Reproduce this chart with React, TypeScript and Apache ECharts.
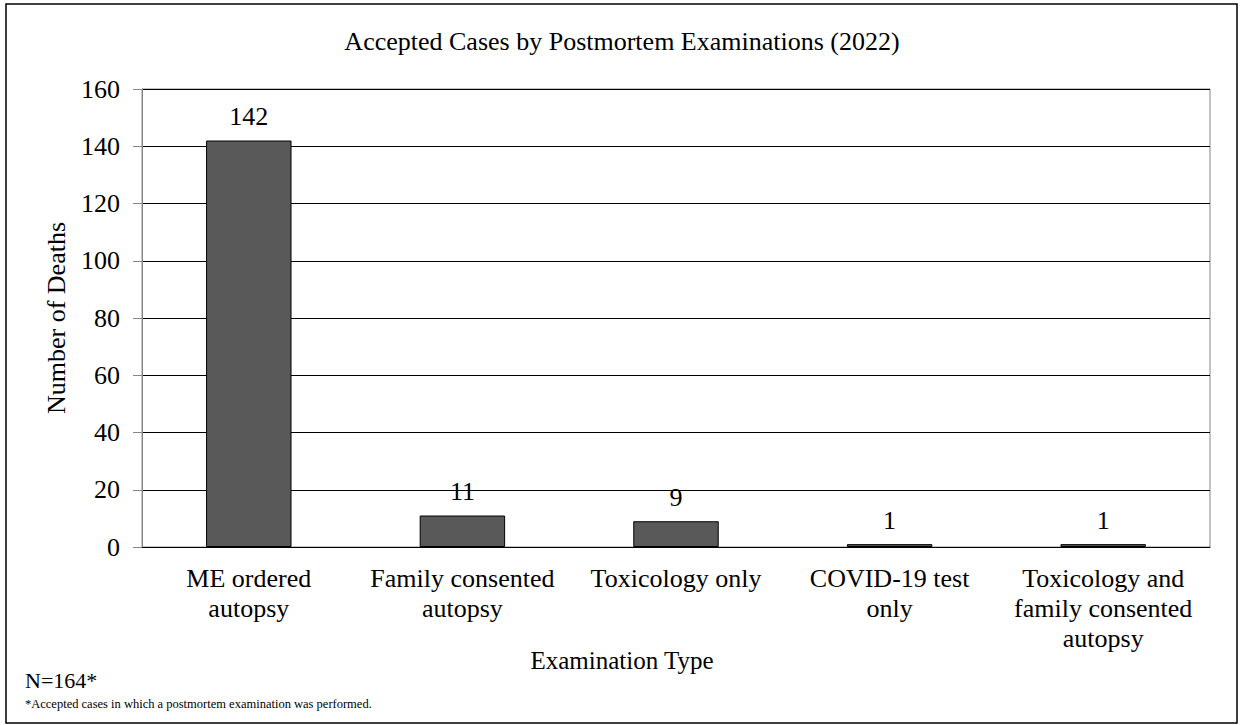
import React, { useEffect, useRef } from "react";
import * as echarts from "echarts";

const categories = [
  "ME ordered\nautopsy",
  "Family consented\nautopsy",
  "Toxicology only",
  "COVID-19 test\nonly",
  "Toxicology and\nfamily consented\nautopsy",
];
const deaths = [142, 11, 9, 1, 1];
const yTicks = { min: 0, max: 160, interval: 20 };
const titleText = "Accepted Cases by Postmortem Examinations (2022)";
const xAxisTitle = "Examination Type";
const yAxisTitle = "Number of Deaths";
const nText = "N=164*";
const footnote = "*Accepted cases in which a postmortem examination was performed.";

const FONT = "Liberation Serif";

function txt(text: string, x: number, y: number, size: number, align: string, rotation = 0) {
  return {
    type: "text",
    x,
    y,
    rotation,
    style: {
      text,
      fontFamily: FONT,
      fontSize: size,
      fill: "#000",
      align,
      verticalAlign: "middle",
    },
  };
}

export default function App() {
  const ref = useRef<HTMLDivElement>(null);
  useEffect(() => {
    if (!ref.current) return;
    const chart = echarts.init(ref.current, null, { renderer: "svg" });
    chart.setOption({
      animation: false,
      backgroundColor: "#fff",
      textStyle: { fontFamily: FONT, color: "#000" },
      grid: {
        left: 142,
        top: 89,
        right: 34,
        bottom: 178,
        show: true,
        borderColor: "#868686",
        borderWidth: 1,
        backgroundColor: "transparent",
      },
      xAxis: {
        type: "category",
        data: categories,
        axisLine: { show: true, lineStyle: { color: "#000", width: 1 } },
        axisTick: { show: false },
        axisLabel: {
          fontFamily: FONT,
          fontSize: 26,
          lineHeight: 30,
          color: "#000",
          margin: 16,
          interval: 0,
        },
      },
      yAxis: {
        type: "value",
        min: yTicks.min,
        max: yTicks.max,
        interval: yTicks.interval,
        axisLine: { show: true, lineStyle: { color: "#868686", width: 1 } },
        axisTick: { show: true, length: 9, lineStyle: { color: "#868686" } },
        axisLabel: { fontFamily: FONT, fontSize: 26, color: "#000", margin: 22 },
        splitLine: { show: true, lineStyle: { color: "#000", width: 1 } },
      },
      series: [
        {
          type: "bar",
          data: deaths,
          barWidth: "40%",
          itemStyle: { color: "#595959", borderColor: "#000", borderWidth: 1 },
          label: {
            show: true,
            position: "top",
            distance: 11,
            fontFamily: FONT,
            fontSize: 26,
            lineHeight: 26,
            color: "#000",
          },
        },
      ],
      graphic: [
        {
          type: "rect",
          shape: { x: 6, y: 4, width: 1231, height: 719 },
          style: { fill: "none", stroke: "#000", lineWidth: 1.5 },
          z: 100,
        },
        txt(titleText, 622, 41, 26, "center"),
        txt(xAxisTitle, 622, 660, 25, "center"),
        txt(yAxisTitle, 56, 318, 26, "center", Math.PI / 2),
        txt(nText, 25, 680, 22, "left"),
        txt(footnote, 25, 704, 12.5, "left"),
      ],
    });
    return () => chart.dispose();
  }, []);
  return (
    <div
      ref={ref}
      style={{ position: "absolute", left: 0, top: 0, width: 1244, height: 725, background: "#fff" }}
    />
  );
}
